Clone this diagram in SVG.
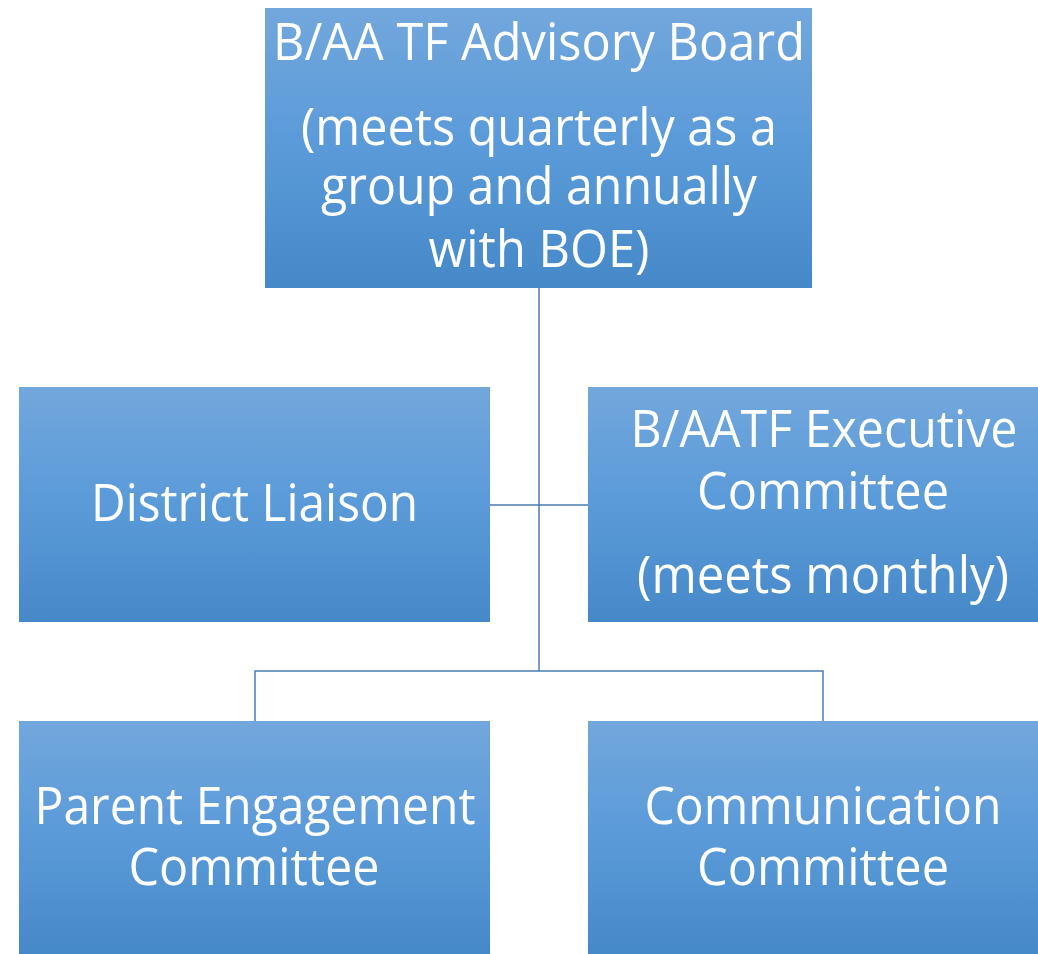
<svg xmlns="http://www.w3.org/2000/svg" width="1038" height="954" viewBox="0 0 1038 954">
<defs>
<linearGradient id="g" x1="0" y1="0" x2="0" y2="1">
<stop offset="0" stop-color="#72a7dc"/>
<stop offset="0.5" stop-color="#5a9ad9"/>
<stop offset="1" stop-color="#4689c8"/>
</linearGradient>
<style>
.box{fill:url(#g);}
.t{font-family:"Open Sans","Noto Sans","Liberation Sans",sans-serif;font-size:51px;fill:#ffffff;text-anchor:middle;}
.c{fill:none;stroke:#4a7db0;stroke-width:1.5;}
</style>
</defs>
<rect width="1038" height="954" fill="#ffffff"/>
<g id="connectors">
<path class="c" d="M539 288 V671"/>
<path class="c" d="M490 505 H588"/>
<path class="c" d="M255 721 V671 H823 V721"/>
</g>
<g id="advisory-board">
<rect class="box" x="265" y="8" width="547" height="280"/>
<text class="t" x="539" y="60" textLength="532" lengthAdjust="spacingAndGlyphs">B/AA TF Advisory Board</text>
<text class="t" x="539" y="145" textLength="476" lengthAdjust="spacingAndGlyphs">(meets quarterly as a</text>
<text class="t" x="539" y="204" textLength="436" lengthAdjust="spacingAndGlyphs">group and annually</text>
<text class="t" x="539" y="267" textLength="221" lengthAdjust="spacingAndGlyphs">with BOE)</text>
</g>
<g id="district-liaison">
<rect class="box" x="19" y="387" width="471" height="235"/>
<text class="t" x="254.5" y="521" textLength="327" lengthAdjust="spacingAndGlyphs">District Liaison</text>
</g>
<g id="executive-committee">
<rect class="box" x="588" y="387" width="450" height="235"/>
<text class="t" x="824" y="447" textLength="387" lengthAdjust="spacingAndGlyphs">B/AATF Executive</text>
<text class="t" x="823" y="509" textLength="252" lengthAdjust="spacingAndGlyphs">Committee</text>
<text class="t" x="823" y="593" textLength="372" lengthAdjust="spacingAndGlyphs">(meets monthly)</text>
</g>
<g id="parent-engagement">
<rect class="box" x="19" y="721" width="471" height="233"/>
<text class="t" x="255" y="824" textLength="441" lengthAdjust="spacingAndGlyphs">Parent Engagement</text>
<text class="t" x="254" y="885" textLength="251" lengthAdjust="spacingAndGlyphs">Committee</text>
</g>
<g id="communication">
<rect class="box" x="588" y="721" width="450" height="233"/>
<text class="t" x="823" y="824" textLength="357" lengthAdjust="spacingAndGlyphs">Communication</text>
<text class="t" x="823" y="885" textLength="252" lengthAdjust="spacingAndGlyphs">Committee</text>
</g>
</svg>
